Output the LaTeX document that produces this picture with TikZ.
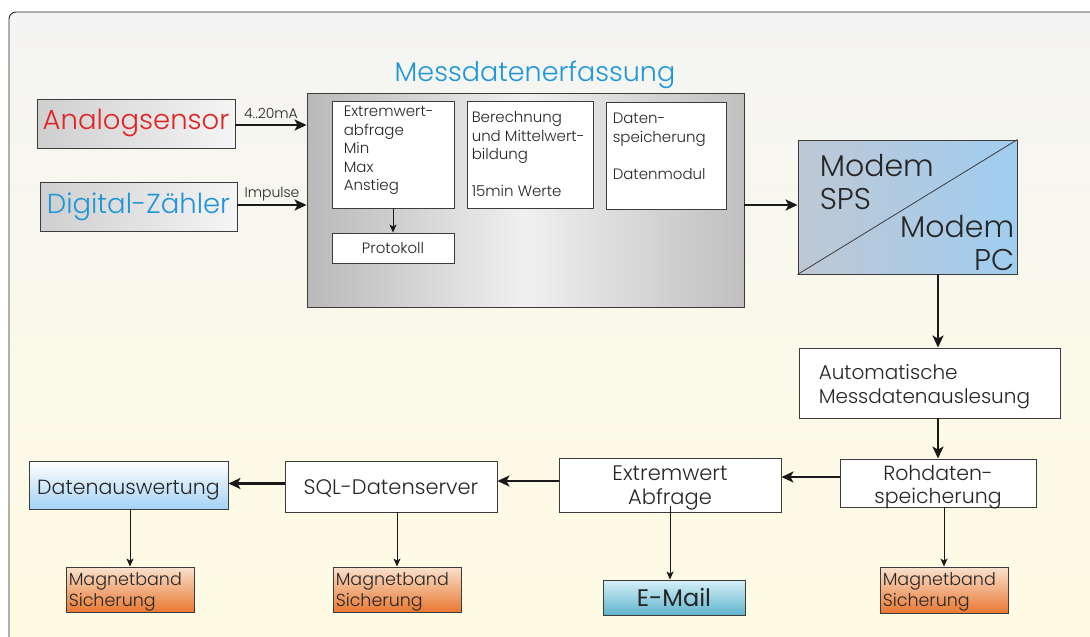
\documentclass[tikz,border=0pt]{standalone}
\usepackage{fontspec}
\setmainfont{Poppins Light}
\newfontfamily\popreg{Poppins}
\usetikzlibrary{arrows.meta,calc}
\definecolor{titleblue}{RGB}{30,150,215}
\definecolor{sensred}{RGB}{225,35,35}
\definecolor{bgtop}{RGB}{244,244,244}
\definecolor{bgbot}{RGB}{255,252,226}
\definecolor{modblue}{RGB}{160,205,240}
\definecolor{modgrey}{RGB}{190,200,212}
\definecolor{orangebot}{RGB}{232,120,50}
\definecolor{orangetop}{RGB}{250,225,205}
\definecolor{datblue}{RGB}{165,210,245}
\definecolor{mailtop}{RGB}{215,240,248}
\definecolor{mailbot}{RGB}{95,180,205}
\definecolor{edge}{RGB}{60,60,60}
\tikzset{
  fs/.style n args={2}{font=\fontsize{#1}{#2}\selectfont},
  box/.style={draw=edge, line width=0.9pt, fill=white, inner sep=0pt, text=black!85},
  thickarrow/.style={line width=2.6pt, draw=black!90, -{Stealth[length=12pt,width=11pt,inset=3pt]}},
  thinarrow/.style={line width=0.9pt, draw=black!90, -{Stealth[length=8pt,width=7pt,inset=2pt]}},
  lbl/.style={font=\fontsize{14}{16}\selectfont, text=black!85, inner sep=1pt},
  intext/.style={anchor=north west, align=left, fs={15}{18.5}, text=black!85, inner sep=0pt},
}
\begin{document}
\begin{tikzpicture}[x=1pt,y=-1pt]
\useasboundingbox (0,0) rectangle (1090,637);
\clip (0,0) rectangle (1090,637);
% background frame
\fill[white] (0,0) rectangle (1090,637);
\shade[top color=bgtop, bottom color=bgbot, middle color=bgbot!60!bgtop, draw=black!85, line width=0.9pt, rounded corners=7pt]
  (9,700) -- (9,12) -- (1150,12) -- (1150,700);
% title
\node[fs={27}{30}, text=titleblue] (title) at (535,75) {Messdatenerfassung};
% sensors
\node[box, left color=gray!38, right color=gray!8, minimum width=198, minimum height=49, fs={27.5}{30}, text=sensred] (ana) at (136,123.5) {Analogsensor};
\node[box, left color=gray!38, right color=gray!8, minimum width=197, minimum height=49, fs={27.5}{30}, text=titleblue] (dig) at (138.5,206.5) {Digital-Zähler};
% big box
\node[box, draw=edge, left color=gray!55, right color=gray!50, middle color=gray!12, minimum width=437, minimum height=214] (big) at (525.5,200) {};
\node[box, minimum width=122, minimum height=107] (e1) at (393,154.5) {};
\node[box, minimum width=126, minimum height=107] (e2) at (530,154.5) {};
\node[box, minimum width=120, minimum height=107] (e3) at (666,155.5) {};
\node[box, minimum width=122, minimum height=30, fs={15}{17}] (prot) at (393,248) {Protokoll};
\node[intext] (e1t) at ([xshift=12,yshift=-5.5]e1.north west) {Extremwert-\\abfrage\\Min\\Max\\Anstieg};
\node[intext] (e2t) at ([xshift=5,yshift=-11]e2.north west) {Berechnung\\und Mittelwert-\\bildung\\[18.5pt]15min Werte};
\node[intext] (e3t) at ([xshift=7,yshift=-11.5]e3.north west) {Daten-\\speicherung\\[18.5pt]Datenmodul};
% modem
\node[box, left color=modgrey, right color=modblue, minimum width=219, minimum height=134] (modem) at (907.5,207) {};
\draw[edge, line width=0.8pt] (modem.south west) -- (modem.north east);
\node[anchor=north west, align=left, fs={30}{33}, text=black!85, inner sep=0pt] (mt1) at ([xshift=22,yshift=-15]modem.north west) {Modem\\SPS};
\node[anchor=south east, align=right, fs={30}{33}, text=black!85, inner sep=0pt] (mt2) at ([xshift=-3,yshift=4]modem.south east) {Modem\\PC};
% right column
\node[box, minimum width=261, minimum height=70] (auto) at (929.5,383) {};
\node[anchor=west, align=left, fs={20}{24}, text=black!85, inner sep=0pt] (autot) at ([xshift=20,yshift=-4]auto.west) {Automatische\\Messdatenauslesung};
\node[box, minimum width=196, minimum height=48] (roh) at (938,483) {};
\node[align=center, fs={20.5}{23}, text=black!85, inner sep=0pt] (roht) at ([yshift=-4]roh.center) {Rohdaten-\\speicherung};
\node[box, minimum width=222, minimum height=54] (ext) at (670,485) {};
\node[align=center, fs={21}{24}, text=black!85, inner sep=0pt] (extt) at ([yshift=-3]ext.center) {Extremwert\\Abfrage};
\node[box, minimum width=212, minimum height=51] (sql) at (391,486.5) {};
\node[fs={21}{24}, text=black!85, inner sep=0pt] (sqlt) at ([yshift=-2]sql.center) {SQL-Datenserver};
\node[box, top color=white, bottom color=datblue, minimum width=199, minimum height=48] (dat) at (128.5,485) {};
\node[fs={20.5}{24}, text=black!85, inner sep=0pt] (datt) at ([yshift=-5]dat.center) {Datenauswertung};
% bottom boxes
\node[box, top color=orangetop, bottom color=orangebot, minimum width=128, minimum height=45] (mb1) at (130,589.5) {};
\node[anchor=west, align=left, fs={17.5}{21}, text=black!85, inner sep=0pt] (mb1t) at ([xshift=3,yshift=-2]mb1.west) {Magnetband\\Sicherung};
\node[box, top color=orangetop, bottom color=orangebot, minimum width=128, minimum height=45] (mb2) at (397,589.5) {};
\node[anchor=west, align=left, fs={17.5}{21}, text=black!85, inner sep=0pt] (mb2t) at ([xshift=3,yshift=-2]mb2.west) {Magnetband\\Sicherung};
\node[box, top color=orangetop, bottom color=orangebot, minimum width=128, minimum height=46] (mb3) at (944,590) {};
\node[anchor=west, align=left, fs={17.5}{21}, text=black!85, inner sep=0pt] (mb3t) at ([xshift=3,yshift=-2]mb3.west) {Magnetband\\Sicherung};
\node[box, top color=mailtop, bottom color=mailbot, minimum width=142, minimum height=35, font=\popreg\fontsize{24}{26}\selectfont] (mail) at (674,597.5) {E-Mail};
% connectors
\draw[thickarrow] ([yshift=-1.5]ana.east) -- ([yshift=-1.5]ana.east -| big.west) node[lbl, pos=0.5, above=4pt] {4..20mA};
\draw[thickarrow] ([yshift=1.5]dig.east) -- ([yshift=1.5]dig.east -| big.west) node[lbl, pos=0.5, above=2pt] {Impulse};
\draw[thinarrow] (e1.south) -- (prot.north);
\draw[thickarrow] ([yshift=2]modem.west -| big.east) -- ([yshift=2]modem.west);
\draw[thickarrow] (modem.south -| roh.north) -- (auto.north -| roh.north);
\draw[thickarrow] (auto.south -| roh.north) -- (roh.north);
\draw[thickarrow] ([yshift=6]roh.west) -- ([yshift=6]roh.west -| ext.east);
\draw[thickarrow] ([yshift=4]ext.west) -- ([yshift=4]ext.west -| sql.east);
\draw[thickarrow] ([yshift=3]sql.west) -- ([yshift=3]sql.west -| dat.east);
\draw[thinarrow] (dat.south -| mb1.north) -- (mb1.north);
\draw[thinarrow] (sql.south -| mb2.north) -- (mb2.north);
\draw[thinarrow] ([yshift=6]ext.south) -- (ext.south |- mail.north);
\draw[thinarrow] (roh.south -| mb3.north) -- (mb3.north);
\end{tikzpicture}
\end{document}
